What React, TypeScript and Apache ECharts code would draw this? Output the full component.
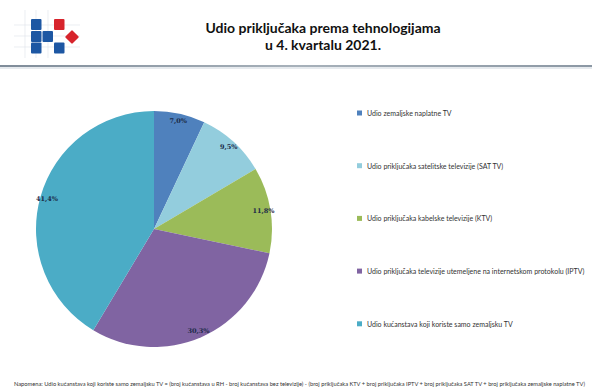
import React, { useEffect, useRef } from "react";
import * as echarts from "echarts";

const categories = [
  "Udio zemaljske naplatne TV",
  "Udio priključaka satelitske televizije (SAT TV)",
  "Udio priključaka kabelske televizije (KTV)",
  "Udio priključaka televizije utemeljene na internetskom protokolu (IPTV)",
  "Udio kućanstava koji koriste samo zemaljsku TV",
];
const values = [7.0, 9.5, 11.8, 30.3, 41.4];
const colors = ["#4F81BD", "#93CDDD", "#9BBB59", "#8064A2", "#4BACC6"];
const titleText = "Udio priključaka prema tehnologijama\nu 4. kvartalu 2021.";
const noteText =
  "Napomena: Udio kućanstava koji koriste samo zemaljsku TV = (broj kućanstava u RH - broj kućanstava bez televizije) - (broj priključaka KTV + broj priključaka IPTV + broj priključaka SAT TV + broj priključaka zemaljske naplatne TV)";

export default function App() {
  const ref = useRef<HTMLDivElement>(null);
  useEffect(() => {
    if (!ref.current) return;
    const chart = echarts.init(ref.current, null, { renderer: "svg" });
    const data = categories.map((name, i) => ({
      name,
      value: values[i],
      itemStyle: { color: colors[i] },
    }));
    const fmt = (p: any) => p.value.toFixed(1).replace(".", ",") + "%";
    const blue = "#1D57A3";
    const red = "#D7242C";
    const grid = "#DDE2EA";
    chart.setOption({
      animation: false,
      backgroundColor: "#ffffff",
      title: {
        text: titleText,
        left: 318,
        top: 14,
        textAlign: "center",
        textStyle: {
          fontFamily: "Lato",
          fontSize: 14,
          fontWeight: "bold",
          lineHeight: 17,
          color: "#111",
        },
      },
      legend: {
        orient: "vertical",
        left: 352,
        top: 104,
        itemWidth: 5,
        itemHeight: 5,
        itemGap: 44.7,
        icon: "rect",
        data: categories,
        textStyle: {
          fontFamily: "Lato",
          fontSize: 7,
          lineHeight: 8,
          color: "#333",
        },
      },
      graphic: [
        // logo grid lines
        { type: "line", shape: { x1: 14, y1: 25, x2: 80, y2: 25 }, style: { stroke: grid, lineWidth: 0.6 } },
        { type: "line", shape: { x1: 14, y1: 36, x2: 80, y2: 36 }, style: { stroke: grid, lineWidth: 0.6 } },
        { type: "line", shape: { x1: 14, y1: 47, x2: 80, y2: 47 }, style: { stroke: grid, lineWidth: 0.6 } },
        { type: "line", shape: { x1: 25, y1: 10, x2: 25, y2: 58 }, style: { stroke: grid, lineWidth: 0.6 } },
        { type: "line", shape: { x1: 36, y1: 10, x2: 36, y2: 58 }, style: { stroke: grid, lineWidth: 0.6 } },
        { type: "line", shape: { x1: 48, y1: 10, x2: 48, y2: 58 }, style: { stroke: grid, lineWidth: 0.6 } },
        // logo squares
        { type: "rect", shape: { x: 31, y: 19, width: 10.5, height: 11, r: 1 }, style: { fill: blue } },
        { type: "rect", shape: { x: 54, y: 19, width: 10.5, height: 11, r: 1 }, style: { fill: red } },
        { type: "rect", shape: { x: 31, y: 31, width: 10.5, height: 11, r: 1 }, style: { fill: blue } },
        { type: "rect", shape: { x: 42.5, y: 31, width: 10.5, height: 11, r: 1 }, style: { fill: blue } },
        { type: "rect", shape: { x: 31, y: 42.5, width: 10.5, height: 11, r: 1 }, style: { fill: blue } },
        { type: "rect", shape: { x: 54, y: 42.5, width: 10.5, height: 11, r: 1 }, style: { fill: blue } },
        {
          type: "rect",
          x: 72,
          y: 37,
          rotation: Math.PI / 4,
          shape: { x: -5, y: -5, width: 10, height: 10, r: 1 },
          style: { fill: red },
        },
        // header line
        {
          type: "rect",
          shape: { x: 0, y: 65, width: 592, height: 2 },
          style: {
            fill: new echarts.graphic.LinearGradient(0, 0, 1, 0, [
              { offset: 0, color: "#7F8C99" },
              { offset: 0.5, color: "#A7B1BA" },
              { offset: 1, color: "#8C98A4" },
            ]),
          },
        },
        {
          type: "rect",
          shape: { x: 0, y: 67, width: 592, height: 2 },
          style: { fill: "#E6EAEE" },
        },
        // footnote
        {
          type: "text",
          x: 14,
          y: 380,
          style: {
            text: noteText,
            fontFamily: "Lato",
            fontSize: 5.73,
            fill: "#333",
          },
        },
      ],
      series: [
        {
          type: "pie",
          center: [154, 229],
          radius: [0, 118],
          startAngle: 90,
          clockwise: true,
          silent: true,
          label: { show: false },
          labelLine: { show: false },
          data,
        },
        {
          type: "pie",
          center: [154, 229],
          radius: [98, 118],
          startAngle: 90,
          clockwise: true,
          silent: true,
          itemStyle: { color: "transparent", borderWidth: 0 },
          label: {
            show: true,
            position: "inside",
            formatter: fmt,
            fontFamily: "DejaVu Serif",
            fontSize: 6.5,
            fontWeight: "bold",
            color: "#1B2A48",
          },
          labelLine: { show: false },
          data: categories.map((name, i) => ({
            name,
            value: values[i],
            itemStyle: { color: "transparent" },
          })),
        },
      ],
    });
    return () => chart.dispose();
  }, []);
  return (
    <div
      ref={ref}
      style={{ position: "fixed", left: 0, top: 0, width: 592, height: 392 }}
    />
  );
}
